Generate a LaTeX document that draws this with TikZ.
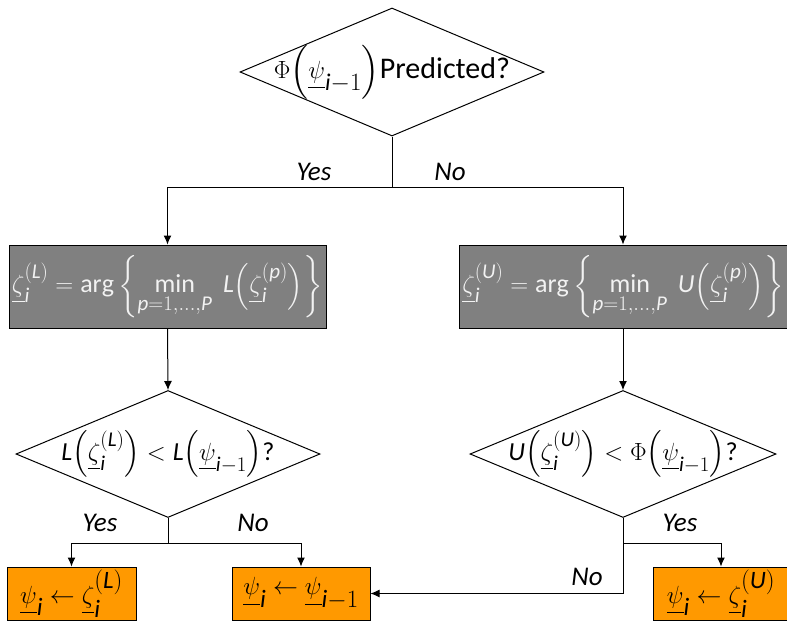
\documentclass[tikz,border=0pt]{standalone}
\usepackage{amsmath}
\usepackage{amssymb}
\usepackage{fontspec}
\setmainfont{Carlito}
\usetikzlibrary{shapes.geometric,arrows.meta}
\definecolor{boxgray}{RGB}{128,128,128}
\definecolor{textgray}{RGB}{242,242,242}
\definecolor{setorange}{RGB}{255,153,0}
\DeclareMathSizes{26}{26}{21}{17}
\DeclareMathSizes{30}{30}{24}{19}
\DeclareMathSizes{32}{32}{25}{20}
\newcommand{\mi}[1]{\mathit{#1}}
\newcommand{\vpsi}[1]{\underline{\psi}_{#1}}
\newcommand{\vzeta}[2]{\underline{\zeta}_{#1}^{(#2)}}
\newcommand{\of}[1]{{\left(#1\right)}}
\tikzset{every node/.style={font=\fontsize{26}{30}\selectfont}}
\tikzset{bigtext/.style={font=\fontsize{30}{34}\selectfont}}
\tikzset{decision/.style={diamond,draw,aspect=2.4,inner sep=0pt}}
\tikzset{minbox/.style={rectangle,draw,fill=boxgray,text=textgray,minimum height=83pt,inner sep=0pt}}
\tikzset{setbox/.style={rectangle,draw,fill=setorange,minimum height=53pt,inner sep=0pt,font=\fontsize{32}{36}\selectfont}}
\tikzset{answer/.style={font=\fontsize{27}{30}\selectfont\itshape}}

\begin{document}
\begin{tikzpicture}[x=1pt,y=-1pt,line width=1pt,>={Latex[length=9pt,width=8pt]}]
\useasboundingbox (0,0) rectangle (787,621);
% tests
\node[decision,bigtext,minimum width=304pt,minimum height=128pt] (pred)  at (392,72)
  {\makebox[0pt]{$\Phi\of{\vpsi{\mi{i}-1}}$Predicted?}};
\node[decision,minimum width=304pt,minimum height=127pt] (Ltest) at (168,454)
  {\makebox[0pt]{$\mi{L}\of{\vzeta{\mi{i}}{\mi{L}}}<\mi{L}\of{\vpsi{\mi{i}-1}}$?}};
\node[decision,minimum width=306pt,minimum height=127pt] (Utest) at (623,454)
  {\makebox[0pt]{$\mi{U}\of{\vzeta{\mi{i}}{\mi{U}}}<\Phi\of{\vpsi{\mi{i}-1}}$?}};
% minimisations
\node[minbox,minimum width=317pt] (Lbox) at (167.5,286.5)
  {\makebox[0pt]{$\vzeta{\mi{i}}{\mi{L}}=\mathrm{arg}\left\{\min\limits_{\mi{p}=1,\dots,\mi{P}}\;\mi{L}\of{\vzeta{\mi{i}}{\mi{p}}}\right\}$}};
\node[minbox,minimum width=328pt] (Ubox) at (623,286.5)
  {\makebox[0pt]{$\vzeta{\mi{i}}{\mi{U}}=\mathrm{arg}\left\{\min\limits_{\mi{p}=1,\dots,\mi{P}}\;\mi{U}\of{\vzeta{\mi{i}}{\mi{p}}}\right\}$}};
% updates
\node[setbox,minimum width=129pt] (Lset) at (71.5,593.5)
  {\makebox[0pt]{\raisebox{4pt}{$\vpsi{\mi{i}}\leftarrow\vzeta{\mi{i}}{\mi{L}}$}}};
\node[setbox,minimum width=138pt] (keep) at (301,593.5)
  {\makebox[0pt]{\raisebox{4pt}{$\vpsi{\mi{i}}\leftarrow\vpsi{\mi{i}-1}$}}};
\node[setbox,minimum width=136pt] (Uset) at (721,593.5)
  {\makebox[0pt]{\raisebox{4pt}{$\vpsi{\mi{i}}\leftarrow\vzeta{\mi{i}}{\mi{U}}$}}};
% branch points
\coordinate (predsplit) at (392,187);
\coordinate (Lsplit) at (168,543);
\coordinate (Usplit) at (623,543);
\draw (pred.south) -- (predsplit);
\draw[->] (predsplit) -| (Lbox.north);
\draw[->] (predsplit) -| (Ubox.north);
\draw[->] (Lbox.south) -- (Ltest.north);
\draw[->] (Ubox.south) -- (Utest.north);
\draw (Ltest.south) -- (Lsplit);
\draw[->] (Lsplit) -| (Lset.north);
\draw[->] (Lsplit) -| (keep.north);
\draw[->] (Utest.south) |- (keep.east);
\draw[->] (Usplit) -| (Uset.north);
% answers
\node[answer] (predyes) at (314,172) {Yes};
\node[answer] (predno)  at (450,172) {No};
\node[answer] (Lyes)    at (100,523) {Yes};
\node[answer] (Lno)     at (253,523) {No};
\node[answer] (Uyes)    at (680,523) {Yes};
\node[answer] (Uno)     at (587,577) {No};
\end{tikzpicture}
\end{document}
